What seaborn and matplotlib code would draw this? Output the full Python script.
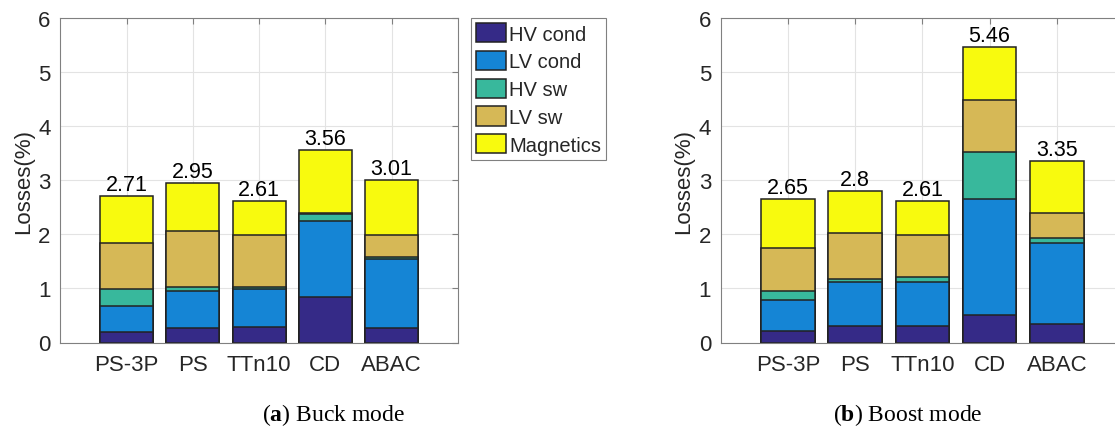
import numpy as np
import pandas as pd
import matplotlib
matplotlib.use("Agg")
import matplotlib.pyplot as plt
import seaborn as sns
from matplotlib.patches import Patch

# ---------------- data ----------------
categories = ["PS-3P", "PS", "TTn10", "CD", "ABAC"]
components = ["HV cond", "LV cond", "HV sw", "LV sw", "Magnetics"]
colors = ["#352a87", "#1585d5", "#38b89c", "#d6b856", "#f8fa0e"]

buck_hv_cond = [0.20, 0.26, 0.28, 0.85, 0.26]
buck_lv_cond = [0.48, 0.70, 0.70, 1.40, 1.28]
buck_hv_sw = [0.30, 0.07, 0.05, 0.13, 0.04]
buck_lv_sw = [0.86, 1.04, 0.96, 0.01, 0.41]
buck_magnetics = [0.87, 0.88, 0.62, 1.17, 1.02]
buck_totals = [2.71, 2.95, 2.61, 3.56, 3.01]

boost_hv_cond = [0.21, 0.31, 0.31, 0.51, 0.34]
boost_lv_cond = [0.57, 0.80, 0.81, 2.14, 1.50]
boost_hv_sw = [0.18, 0.07, 0.10, 0.87, 0.10]
boost_lv_sw = [0.78, 0.85, 0.76, 0.96, 0.45]
boost_magnetics = [0.91, 0.77, 0.63, 0.98, 0.96]
boost_totals = [2.65, 2.80, 2.61, 5.46, 3.35]

yticks = [0, 1, 2, 3, 4, 5, 6]

# ---------------- style ----------------
sns.set_style("white")
plt.rcParams["font.family"] = ["Liberation Sans", "DejaVu Sans"]
plt.rcParams["mathtext.fontset"] = "custom"
plt.rcParams["mathtext.rm"] = "Liberation Serif"
plt.rcParams["mathtext.bf"] = "Liberation Serif:bold"

W, H = 1115, 427
fig = plt.figure(figsize=(W / 100, H / 100), dpi=100)
ax_top, ax_bot = 19.0, 343.5
ax1 = fig.add_axes([60.25 / W, 1 - ax_bot / H, 397.5 / W, (ax_bot - ax_top) / H])
ax2 = fig.add_axes([720.8 / W, 1 - ax_bot / H, 403.2 / W, (ax_bot - ax_top) / H])

spine_col = "#808080"
text_col = "#262626"


def draw(ax, layers, totals):
    cum = np.cumsum(np.array(layers, dtype=float), axis=0)
    for i in range(len(components) - 1, -1, -1):
        df = pd.DataFrame({"category": categories, "value": cum[i]})
        sns.barplot(data=df, x="category", y="value", order=categories,
                    color=colors[i], saturation=1, width=0.8,
                    edgecolor="#222222", linewidth=1.1, ax=ax, zorder=2)
    for x, (top, t) in enumerate(zip(cum[-1], totals)):
        ax.annotate(f"{t:g}", xy=(x, top), xytext=(0, 4.3),
                    textcoords="offset points", ha="center", va="baseline",
                    fontsize=15.5, color="black")
    ax.set_xlim(-1, 5)
    ax.set_ylim(0, 6)
    ax.set_yticks(yticks)
    ax.set_xlabel("")
    ax.set_ylabel("Losses(%)", fontsize=16, color=text_col, labelpad=3)
    ax.grid(True, color="#e3e3e3", linewidth=0.8)
    ax.set_axisbelow(True)
    for s in ax.spines.values():
        s.set_color(spine_col)
        s.set_linewidth(0.8)
        s.set_visible(True)
    ax.tick_params(direction="in", top=True, right=True, length=4,
                   width=0.8, color=spine_col, labelsize=16,
                   labelcolor=text_col)
    ax.tick_params(axis="y", pad=7)
    ax.tick_params(axis="x", pad=8)


draw(ax1, [buck_hv_cond, buck_lv_cond, buck_hv_sw, buck_lv_sw, buck_magnetics], buck_totals)
draw(ax2, [boost_hv_cond, boost_lv_cond, boost_hv_sw, boost_lv_sw, boost_magnetics], boost_totals)

handles = [Patch(facecolor=c, edgecolor="#222222", linewidth=1.1) for c in colors]
leg = ax1.legend(handles, components, loc="upper left", bbox_to_anchor=(1.033, 1.0),
                 borderaxespad=0, fontsize=14.5, frameon=True, fancybox=False,
                 framealpha=1, edgecolor=spine_col, handlelength=1.5,
                 handleheight=1.1, labelspacing=0.36, handletextpad=0.15,
                 borderpad=0.25)
leg.get_frame().set_linewidth(0.8)

fig.text(333 / W, 1 - 421 / H, r"($\mathbf{a}$) Buck mode", ha="center", va="baseline",
         fontsize=17, family="Liberation Serif", color="black")
fig.text(908 / W, 1 - 421 / H, r"($\mathbf{b}$) Boost mode", ha="center", va="baseline",
         fontsize=17, family="Liberation Serif", color="black")

fig.savefig("out.png", dpi=100)
